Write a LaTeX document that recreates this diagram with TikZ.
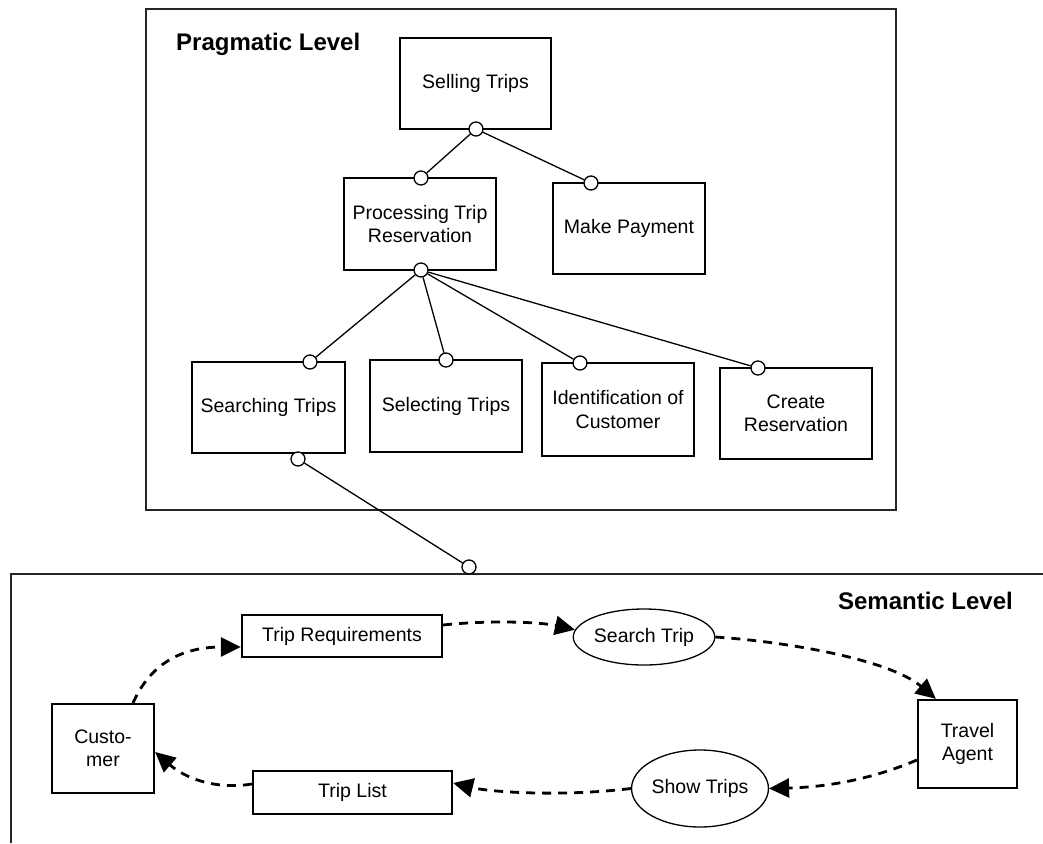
\documentclass[tikz,border=0pt]{standalone}
\usepackage{fontspec}
\setmainfont{Liberation Sans}
\usetikzlibrary{arrows.meta,shapes.geometric}
\begin{document}
\begin{tikzpicture}[x=1pt,y=-1pt,
  every node/.style={font=\fontsize{19.5}{23.5}\selectfont},
  frame/.style={draw=black!85, line width=1.5pt},
  title/.style={font=\fontsize{24}{28}\selectfont\bfseries, inner sep=0pt},
  task/.style={draw, line width=1.9pt, rectangle, inner sep=0pt, align=center,
    minimum width=151pt, minimum height=91pt},
  port/.style={draw, circle, line width=1.3pt, fill=white, inner sep=0pt, minimum size=14pt},
  link/.style={line width=1.3pt},
  obj/.style={draw, line width=2.3pt, rectangle, inner sep=0pt, align=center},
  act/.style={draw, line width=1.3pt, ellipse, inner sep=0pt, align=center},
  flow/.style={line width=2.8pt, dash pattern=on 9pt off 7pt,
    -{Triangle[length=20pt,width=19pt]}}
]
\useasboundingbox (0,0) rectangle (1043,843);

% level frames
\draw[frame] (146,9) rectangle (896,510);
\draw[frame] (1043,574) -- (11,574) -- (11,843);
\node[title, anchor=base west] (prag) at (176,51) {Pragmatic Level};
\node[title, anchor=base east] (sem) at (1013,609) {Semantic Level};

% goal tree
\node[task] (sell) at (475.5,83.5) {Selling Trips};
\node[task, minimum width=152pt, minimum height=92pt] (proc) at (420,224) {Processing Trip\\Reservation};
\node[task, minimum width=152pt] (pay) at (629,228.5) {Make Payment};
\node[task, minimum width=153pt] (srch) at (268.5,407.5) {Searching Trips};
\node[task, minimum width=152pt, minimum height=92pt] (sel) at (446,406) {Selecting Trips};
\node[task, minimum width=152pt, minimum height=93pt] (ident) at (618,409.5) {Identification of\\Customer};
\node[task, minimum width=152pt] (create) at (796,413.5) {Create\\Reservation};

% connection points
\node[port] (psell) at (476,129) {};
\node[port] (pproct) at (421,178) {};
\node[port] (ppay) at (591,183) {};
\node[port] (pprocb) at (421,270) {};
\node[port] (psrcht) at (310,362) {};
\node[port] (psel) at (446,360) {};
\node[port] (pident) at (580,363) {};
\node[port] (pcreate) at (758,368) {};
\node[port] (psrchb) at (298,459) {};
\node[port] (psem) at (469,567) {};

\draw[link] (psell) -- (pproct);
\draw[link] (psell) -- (ppay);
\draw[link] (pprocb) -- (psrcht);
\draw[link] (pprocb) -- (psel);
\draw[link] (pprocb) -- (pident);
\draw[link] (pprocb) -- (pcreate);
\draw[link] (psrchb) -- (psem);

% interaction at the semantic level
\node[obj, minimum width=102pt, minimum height=89pt] (cust) at (103,748.5) {Custo-\\mer};
\node[obj, minimum width=200pt, minimum height=42pt] (req) at (342,636) {Trip Requirements};
\node[obj, minimum width=199pt, minimum height=43pt] (list) at (352.5,792.5) {Trip List};
\node[act, minimum width=128pt, minimum height=56pt] (search) at (644,637) {Search Trip};
\node[act, minimum width=132pt, minimum height=77pt] (show) at (700,788.5) {Show Trips};
\node[obj, minimum width=99pt, minimum height=88pt] (agent) at (967.5,744) {Travel\\Agent};

\draw[flow] ([xshift=30pt]cust.north) .. controls (150,665) and (180,647) .. ([yshift=-11pt]req.west);
\draw[flow] ([yshift=11pt]req.east) .. controls (490,620) and (540,622) .. (search.174);
\draw[flow] (search.east) .. controls (790,642) and (890,660) .. ([xshift=19pt]agent.north west);
\draw[flow] ([yshift=-16pt]agent.west) .. controls (875,778) and (830,787) .. (show.east);
\draw[flow] (show.west) .. controls (560,797) and (490,792) .. ([yshift=9.5pt]list.east);
\draw[flow] ([yshift=8.5pt]list.west) .. controls (215,790) and (185,778) .. ([yshift=-3.5pt]cust.east);
\end{tikzpicture}
\end{document}
